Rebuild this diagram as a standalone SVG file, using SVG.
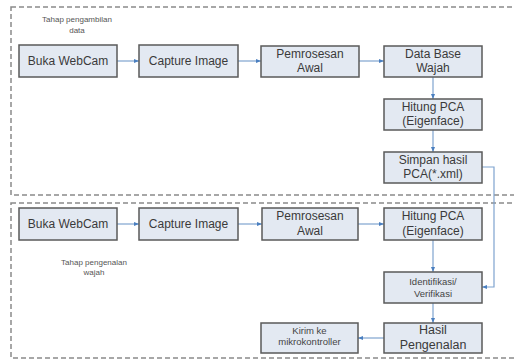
<svg xmlns="http://www.w3.org/2000/svg" width="514" height="362" viewBox="0 0 514 362">
<defs>
<style>
.frame{fill:none;stroke:#8a8a8a;stroke-width:1.5;stroke-dasharray:5,3}
.box{fill:#e3e9f2;stroke:#5a5a5a;stroke-width:1.5}
.t{font-family:"Liberation Sans",Arial,sans-serif;font-size:12px;fill:#3a3a3a;text-anchor:middle}
.s{font-family:"Liberation Sans",Arial,sans-serif;font-size:9.5px;fill:#444;text-anchor:middle}
.cap{font-family:"Liberation Sans",Arial,sans-serif;font-size:8px;fill:#555;text-anchor:middle}
.c{fill:none;stroke:#7fa3cf;stroke-width:1.2}
</style>
<marker id="a" viewBox="0 0 10 10" refX="10" refY="5" markerWidth="5" markerHeight="5" orient="auto" markerUnits="userSpaceOnUse">
<path d="M0,1 L10,5 L0,9 z" fill="#4a7fc0"/>
</marker>
</defs>
<rect class="frame" x="11" y="7" width="510" height="188"/>
<rect class="frame" x="11" y="203" width="510" height="155"/>
<text class="cap" x="77" y="22">Tahap pengambilan</text>
<text class="cap" x="77" y="33">data</text>
<text class="cap" x="94" y="265">Tahap pengenalan</text>
<text class="cap" x="94" y="275">wajah</text>
<g id="connectors">
<path class="c" d="M117,61 H139" marker-end="url(#a)"/>
<path class="c" d="M238,61 H261" marker-end="url(#a)"/>
<path class="c" d="M359,61 H384" marker-end="url(#a)"/>
<path class="c" d="M433,77 V99" marker-end="url(#a)"/>
<path class="c" d="M433,130 V152" marker-end="url(#a)"/>
<path class="c" d="M117,224 H139" marker-end="url(#a)"/>
<path class="c" d="M238,224 H262" marker-end="url(#a)"/>
<path class="c" d="M358,224 H384" marker-end="url(#a)"/>
<path class="c" d="M433,240 V272" marker-end="url(#a)"/>
<path class="c" d="M433,303 V323" marker-end="url(#a)"/>
<path class="c" d="M384,338 H358" marker-end="url(#a)"/>
<path class="c" d="M482,167 H494 V287 H482" marker-end="url(#a)"/>
</g>
<g id="buka1"><rect class="box" x="19" y="45" width="98" height="32"/><text class="t" x="68" y="65">Buka WebCam</text></g>
<g id="capture1"><rect class="box" x="139" y="45" width="99" height="32"/><text class="t" x="188.5" y="65">Capture Image</text></g>
<g id="pemrosesan1"><rect class="box" x="261" y="46" width="98" height="31"/><text class="t" x="310" y="58">Pemrosesan</text><text class="t" x="310" y="72">Awal</text></g>
<g id="database"><rect class="box" x="384" y="46" width="98" height="31"/><text class="t" x="433" y="58">Data Base</text><text class="t" x="433" y="72">Wajah</text></g>
<g id="hitung1"><rect class="box" x="384" y="99" width="98" height="31"/><text class="t" x="433" y="111">Hitung PCA</text><text class="t" x="433" y="125">(Eigenface)</text></g>
<g id="simpan"><rect class="box" x="384" y="152" width="98" height="31"/><text class="t" x="433" y="164">Simpan hasil</text><text class="t" x="433" y="178">PCA(*.xml)</text></g>
<g id="buka2"><rect class="box" x="19" y="208" width="98" height="32"/><text class="t" x="68" y="228">Buka WebCam</text></g>
<g id="capture2"><rect class="box" x="139" y="208" width="99" height="32"/><text class="t" x="188.5" y="228">Capture Image</text></g>
<g id="pemrosesan2"><rect class="box" x="262" y="208" width="96" height="32"/><text class="t" x="310" y="220">Pemrosesan</text><text class="t" x="310" y="235">Awal</text></g>
<g id="hitung2"><rect class="box" x="384" y="208" width="98" height="32"/><text class="t" x="433" y="220">Hitung PCA</text><text class="t" x="433" y="235">(Eigenface)</text></g>
<g id="identifikasi"><rect class="box" x="384" y="272" width="98" height="31"/><text class="s" x="433" y="285">Identifikasi/</text><text class="s" x="433" y="297">Verifikasi</text></g>
<g id="hasil"><rect class="box" x="384" y="323" width="98" height="30"/><text class="t" x="433" y="334" style="font-size:12.5px">Hasil</text><text class="t" x="433" y="349" style="font-size:12.5px">Pengenalan</text></g>
<g id="kirim"><rect class="box" x="261" y="323" width="97" height="30"/><text class="s" x="309.5" y="334">Kirim ke</text><text class="s" x="309.5" y="345">mikrokontroller</text></g>
</svg>
